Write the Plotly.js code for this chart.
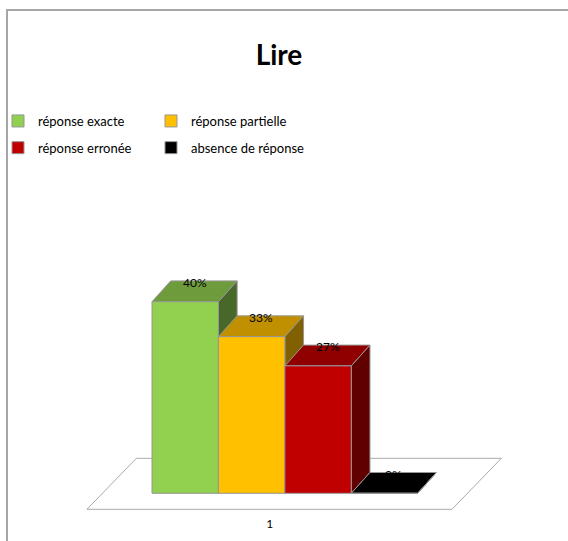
<!DOCTYPE html>
<html>
<head>
<meta charset="utf-8">
<script src="https://cdn.plot.ly/plotly-3.0.1.min.js"></script>
<style>
html,body{margin:0;padding:0;background:#fff;}
#wrap{position:relative;width:568px;height:541px;overflow:hidden;}
#chart{position:absolute;left:0;top:0;width:568px;height:541px;}
#frame{position:absolute;left:6px;top:9px;width:600px;height:600px;border-left:2px solid #a6a6a6;border-top:2px solid #a6a6a6;pointer-events:none;}
</style>
</head>
<body>
<div id="wrap"><div id="chart"></div><div id="frame"></div></div>
<script>
// ---- data ----
var categories = ['1'];
var seriesNames = ['réponse exacte', 'réponse partielle', 'réponse erronée', 'absence de réponse'];
var seriesValues = [40, 32.7, 26.6, 0];
var frontColors = ['#92D050', '#FFC000', '#C00000', '#000000'];
var topColors = ['#6E9C3C', '#C09000', '#900000', '#000000'];
var sideColors = ['#48682A', '#806000', '#600000', '#000000'];
var titleText = 'Lire';

// ---- geometry (pixels) ----
var W = 568, H = 541;
var M = {l: 80, r: 58, t: 200, b: 26, autoexpand: false};
var plotW = W - M.l - M.r, plotH = H - M.t - M.b;
var groupCenterPx = 284.85, groupWidthPx = 265.7, bargap = 0.2;
var PX = groupWidthPx / (1 - bargap);          // px per x unit
var basePx = 493.3, PY = 4.79;                  // y=0 pixel, px per unit
var xr = [(M.l - groupCenterPx) / PX, (M.l + plotW - groupCenterPx) / PX];
var yr = [-(M.t + plotH - basePx) / PY, (basePx - M.t) / PY];
var depthDX = 18.7 / PX, depthDY = 20.8 / PY;   // bar depth offset
var floorFront = {dx: -15.4 / PX, dy: -16 / PY};
var floorBack = {dx: 34 / PX, dy: 35 / PY};
var floorHalf = 182.5 / PX;
var edge = 'rgb(150,150,150)';
var FONT = 'Lato, "Open Sans", sans-serif';

var n = seriesValues.length;
var barW = (1 - bargap) / n;

var traces = seriesNames.map(function (name, i) {
  return {
    type: 'bar', name: name, x: categories, y: [seriesValues[i]],
    marker: {color: frontColors[i], line: {color: edge, width: 1}},
    legend: i < 2 ? 'legend' : 'legend2',
    hoverinfo: 'skip'
  };
});

function pt(x, y) { return x + ',' + y; }
var shapes = [];
// floor
(function () {
  var f0 = -floorHalf, f1 = floorHalf;
  shapes.push({
    type: 'path', xref: 'x', yref: 'y', layer: 'below',
    path: 'M' + pt(f0 + floorFront.dx, floorFront.dy) + 'L' + pt(f1 + floorFront.dx, floorFront.dy) +
          'L' + pt(f1 + floorBack.dx, floorBack.dy) + 'L' + pt(f0 + floorBack.dx, floorBack.dy) + 'Z',
    fillcolor: '#ffffff', line: {color: 'rgb(170,170,170)', width: 1}
  });
})();
var annotations = [];
seriesValues.forEach(function (v, i) {
  var x0 = -(1 - bargap) / 2 + i * barW, x1 = x0 + barW;
  // top face
  shapes.push({
    type: 'path', xref: 'x', yref: 'y', layer: 'below',
    path: 'M' + pt(x0, v) + 'L' + pt(x1, v) + 'L' + pt(x1 + depthDX, v + depthDY) + 'L' + pt(x0 + depthDX, v + depthDY) + 'Z',
    fillcolor: topColors[i], line: {color: edge, width: 1}
  });
  // side face
  shapes.push({
    type: 'path', xref: 'x', yref: 'y', layer: 'below',
    path: 'M' + pt(x1, 0) + 'L' + pt(x1, v) + 'L' + pt(x1 + depthDX, v + depthDY) + 'L' + pt(x1 + depthDX, depthDY) + 'Z',
    fillcolor: sideColors[i], line: {color: edge, width: 1}
  });
  annotations.push({
    xref: 'x', yref: 'y', x: (x0 + x1) / 2, y: v, xshift: 9.5, yshift: 19,
    text: Math.round(v) + '%', showarrow: false, xanchor: 'center', yanchor: 'middle',
    font: {family: FONT, size: 12, color: '#000'}
  });
});

var legendBase = {
  orientation: 'h', xanchor: 'left', yanchor: 'middle', entrywidth: 108,
  font: {family: FONT, size: 13, color: '#000'}, bgcolor: 'rgba(0,0,0,0)', borderwidth: 0,
  traceorder: 'normal'
};
var legLeftPx = -2;
var layout = {
  width: W, height: H, margin: M,
  paper_bgcolor: 'rgba(0,0,0,0)', plot_bgcolor: 'rgba(0,0,0,0)',
  font: {family: FONT},
  title: {text: '<b>' + titleText + '</b>', x: 279 / W, xanchor: 'center', xref: 'container',
          y: 1 - 55 / H, yanchor: 'middle', yref: 'container',
          font: {family: FONT, size: 28, color: '#000'}},
  barmode: 'group', bargap: bargap, bargroupgap: 0,
  showlegend: true,
  legend: Object.assign({}, legendBase, {x: (legLeftPx - M.l) / plotW, y: (M.t + plotH - 121) / plotH}),
  legend2: Object.assign({}, legendBase, {x: (legLeftPx - M.l) / plotW, y: (M.t + plotH - 147.7) / plotH}),
  xaxis: {type: 'category', range: xr, showgrid: false, zeroline: false, showline: false, ticks: '',
          ticklabelshift: -15, tickfont: {family: FONT, size: 12, color: '#000'}, fixedrange: true},
  yaxis: {range: yr, visible: false, showgrid: false, zeroline: false, fixedrange: true},
  shapes: shapes, annotations: annotations
};
Plotly.newPlot('chart', traces, layout, {displayModeBar: false, staticPlot: true});
</script>
</body>
</html>
